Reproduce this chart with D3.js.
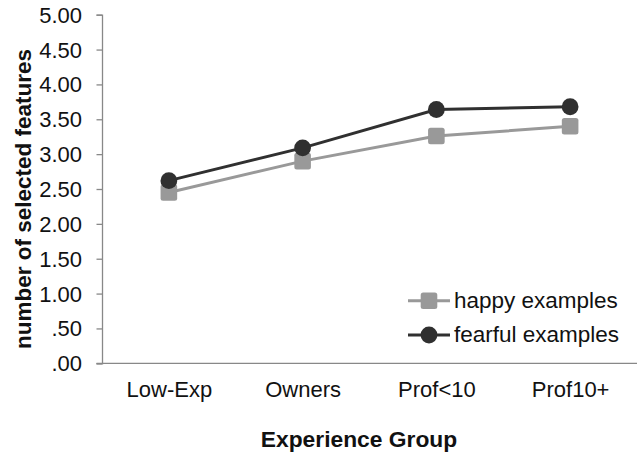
<!DOCTYPE html>
<html><head><meta charset="utf-8">
<script src="https://cdn.jsdelivr.net/npm/d3@7"></script>
<style>body{margin:0;background:#fff}svg{display:block;font-family:"Liberation Sans",Arial,sans-serif}</style>
</head><body>
<svg id="c" width="643" height="457"></svg>
<script>
const categories = ["Low-Exp","Owners","Prof<10","Prof10+"];
const happy = [2.45, 2.90, 3.26, 3.40];
const fearful = [2.62, 3.09, 3.64, 3.68];
const yTicks = [0,0.5,1,1.5,2,2.5,3,3.5,4,4.5,5];
const seriesNames = ["happy examples","fearful examples"];

const svg = d3.select("#c");
const x = d3.scalePoint().domain(categories).range([102,637]).padding(0.5);
const y = d3.scaleLinear().domain([0,5]).range([363.3,14.7]);
const fmt = v => v===0 ? ".00" : (v<1 ? d3.format(".2f")(v).replace(/^0/,"") : d3.format(".2f")(v));
const FF = "Liberation Sans, Arial, sans-serif";

// y axis
const ya = svg.append("g").attr("transform","translate(102,0)")
  .call(d3.axisLeft(y).tickValues(yTicks).tickSize(5.5).tickPadding(14.5).tickFormat(fmt));
ya.select(".domain").attr("stroke","#888").attr("stroke-width",1.3);
ya.selectAll(".tick line").attr("stroke","#888").attr("stroke-width",1.3);
ya.selectAll(".tick text").attr("font-size",22).attr("fill","#111").attr("font-family",FF).attr("dy","0.34em");

// x axis
const xa = svg.append("g").attr("transform","translate(0,363.3)")
  .call(d3.axisBottom(x).tickSize(0).tickPadding(27));
xa.select(".domain").attr("stroke","#888").attr("stroke-width",1.3).attr("d","M96.5,0H637");
xa.selectAll(".tick text").attr("font-size",22).attr("fill","#111").attr("font-family",FF).attr("dy","0.32em");

// titles
svg.append("text").attr("x",359).attr("y",447).attr("text-anchor","middle")
  .attr("font-weight","bold").attr("font-size",22.8).attr("fill","#111").text("Experience Group");
svg.append("text").attr("transform","translate(31,199) rotate(-90)").attr("text-anchor","middle")
  .attr("font-weight","bold").attr("font-size",22.5).attr("fill","#111").text("number of selected features");

const line = d3.line().x((d,i)=>x(categories[i])).y(d=>y(d));
const cHappy = "#999", cFear = "#303030";

svg.append("path").datum(happy).attr("d",line).attr("fill","none").attr("stroke",cHappy).attr("stroke-width",3);
svg.selectAll(".hm").data(happy).enter().append("rect")
  .attr("x",(d,i)=>x(categories[i])-8.3).attr("y",d=>y(d)-8.3).attr("width",16.6).attr("height",16.6)
  .attr("rx",2.5).attr("fill",cHappy);

svg.append("path").datum(fearful).attr("d",line).attr("fill","none").attr("stroke",cFear).attr("stroke-width",3);
svg.selectAll(".fm").data(fearful).enter().append("circle")
  .attr("cx",(d,i)=>x(categories[i])).attr("cy",d=>y(d)).attr("r",8.4).attr("fill",cFear);

// legend
const lg = svg.append("g");
const ly = [300.7, 335];
lg.append("line").attr("x1",408).attr("x2",450).attr("y1",ly[0]).attr("y2",ly[0]).attr("stroke",cHappy).attr("stroke-width",3);
lg.append("rect").attr("x",429-8.3).attr("y",ly[0]-8.3).attr("width",16.6).attr("height",16.6).attr("rx",2.5).attr("fill",cHappy);
lg.append("line").attr("x1",408).attr("x2",450).attr("y1",ly[1]).attr("y2",ly[1]).attr("stroke",cFear).attr("stroke-width",3);
lg.append("circle").attr("cx",429).attr("cy",ly[1]).attr("r",8.4).attr("fill",cFear);
seriesNames.forEach((n,i)=>{
  lg.append("text").attr("x",454).attr("y",ly[i]+6.8).attr("font-size",22.5).attr("fill","#111").attr("font-family",FF).text(n);
});
</script>
</body></html>
